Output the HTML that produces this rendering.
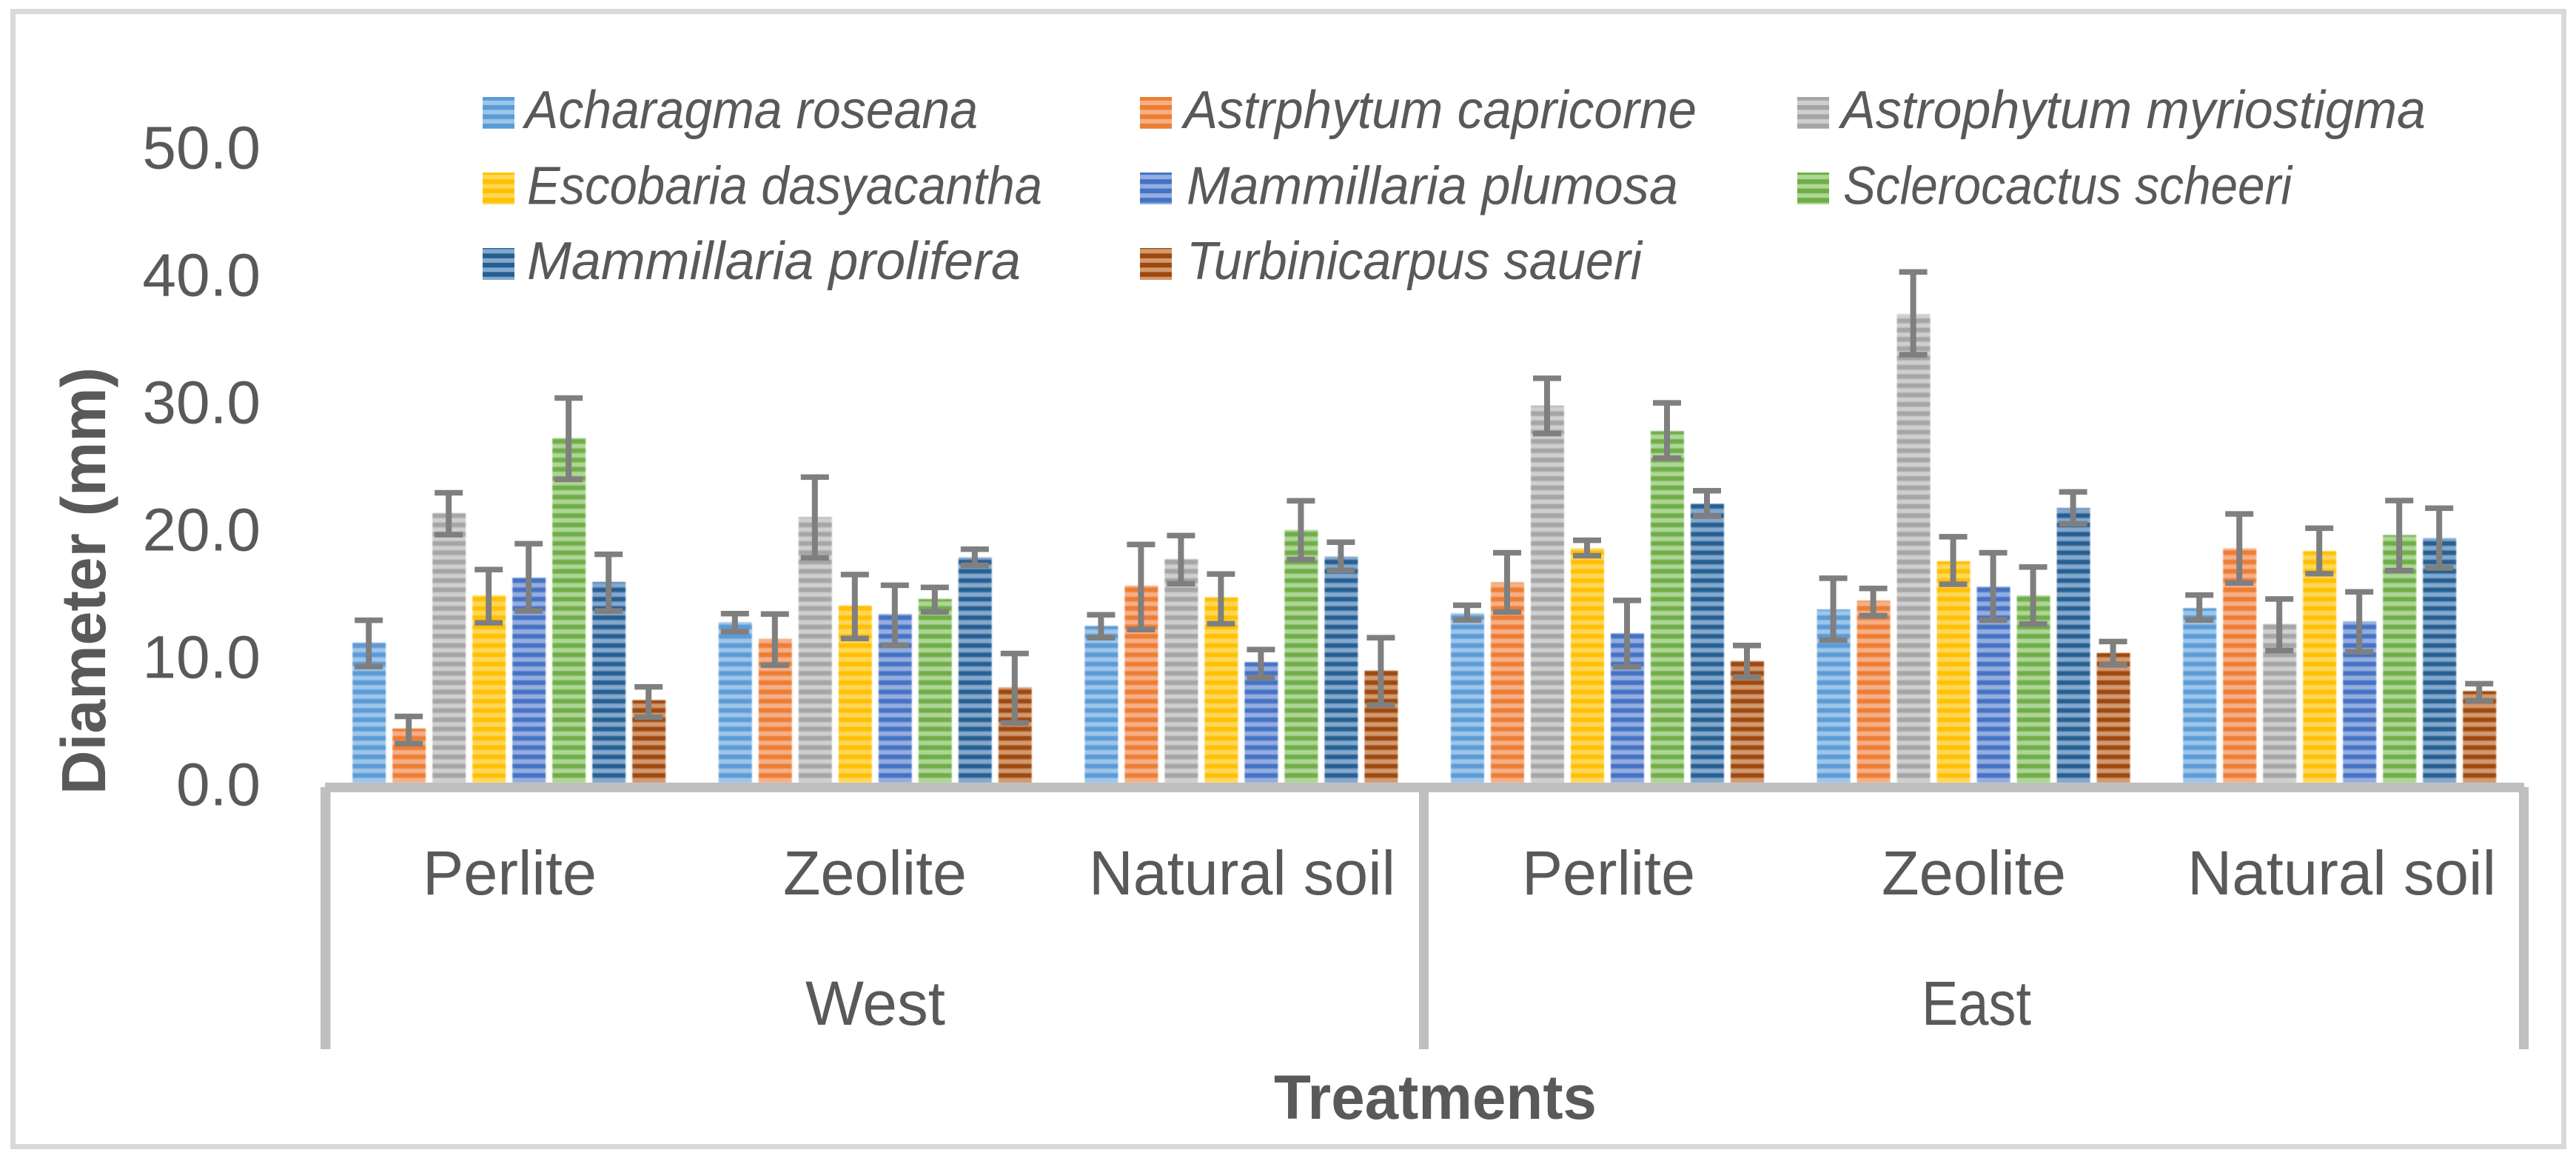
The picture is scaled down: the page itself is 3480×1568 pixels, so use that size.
<!DOCTYPE html>
<html lang="en">
<head>
<meta charset="utf-8">
<title>Diameter by treatment</title>
<style>
html,body{margin:0;padding:0;background:#fff;}
svg{display:block;}
text{font-family:"Liberation Sans",sans-serif;fill:#595959;}
</style>
</head>
<body>
<svg id="chart" xmlns="http://www.w3.org/2000/svg" width="3480" height="1568" viewBox="0 0 3480 1568">
  <defs>
    <pattern id="stripe-0" patternUnits="userSpaceOnUse" x="0" y="1044" width="20" height="12.53"><rect width="20" height="12.53" fill="#9dc6ea"/><rect width="20" height="6.5" fill="#5b9bd5"/></pattern>
    <pattern id="stripe-1" patternUnits="userSpaceOnUse" x="0" y="1044" width="20" height="12.53"><rect width="20" height="12.53" fill="#f6b088"/><rect width="20" height="6.5" fill="#ed7d31"/></pattern>
    <pattern id="stripe-2" patternUnits="userSpaceOnUse" x="0" y="1044" width="20" height="12.53"><rect width="20" height="12.53" fill="#cfcfcf"/><rect width="20" height="6.5" fill="#a5a5a5"/></pattern>
    <pattern id="stripe-3" patternUnits="userSpaceOnUse" x="0" y="1044" width="20" height="12.53"><rect width="20" height="12.53" fill="#ffd859"/><rect width="20" height="6.5" fill="#ffc000"/></pattern>
    <pattern id="stripe-4" patternUnits="userSpaceOnUse" x="0" y="1044" width="20" height="12.53"><rect width="20" height="12.53" fill="#94aee0"/><rect width="20" height="6.5" fill="#4472c4"/></pattern>
    <pattern id="stripe-5" patternUnits="userSpaceOnUse" x="0" y="1044" width="20" height="12.53"><rect width="20" height="12.53" fill="#aed696"/><rect width="20" height="6.5" fill="#70ad47"/></pattern>
    <pattern id="stripe-6" patternUnits="userSpaceOnUse" x="0" y="1044" width="20" height="12.53"><rect width="20" height="12.53" fill="#83a9cf"/><rect width="20" height="6.5" fill="#255e91"/></pattern>
    <pattern id="stripe-7" patternUnits="userSpaceOnUse" x="0" y="1044" width="20" height="12.53"><rect width="20" height="12.53" fill="#d39a6e"/><rect width="20" height="6.5" fill="#9e480e"/></pattern>
    <filter id="soft" x="-5%" y="-5%" width="110%" height="110%"><feGaussianBlur stdDeviation="0.9"/></filter>
  </defs>

  <rect x="0" y="0" width="3480" height="1568" fill="#ffffff"/>
  <rect x="17.5" y="15.5" width="3446" height="1533" fill="#ffffff" stroke="#d9d9d9" stroke-width="7"/>

  <g id="y-ticks" font-size="82" text-anchor="end"></g>
  <text transform="translate(142,1073) rotate(-90)" font-size="84" font-weight="700" textLength="577" lengthAdjust="spacingAndGlyphs">Diameter (mm)</text>

  <g font-size="72" font-style="italic">
    <g><rect x="652" y="131" width="43" height="43" fill="url(#stripe-0)"/><text x="709" y="173" textLength="612" lengthAdjust="spacingAndGlyphs">Acharagma roseana</text></g>
    <g><rect x="1540" y="131" width="43" height="43" fill="url(#stripe-1)"/><text x="1599" y="173" textLength="693" lengthAdjust="spacingAndGlyphs">Astrphytum capricorne</text></g>
    <g><rect x="2428" y="131" width="43" height="43" fill="url(#stripe-2)"/><text x="2487" y="173" textLength="790" lengthAdjust="spacingAndGlyphs">Astrophytum myriostigma</text></g>
    <g><rect x="652" y="233" width="43" height="43" fill="url(#stripe-3)"/><text x="712" y="275.500" textLength="696" lengthAdjust="spacingAndGlyphs">Escobaria dasyacantha</text></g>
    <g><rect x="1540" y="233" width="43" height="43" fill="url(#stripe-4)"/><text x="1603" y="275.500" textLength="664" lengthAdjust="spacingAndGlyphs">Mammillaria plumosa</text></g>
    <g><rect x="2428" y="233" width="43" height="43" fill="url(#stripe-5)"/><text x="2490" y="275.500" textLength="606" lengthAdjust="spacingAndGlyphs">Sclerocactus scheeri</text></g>
    <g><rect x="652" y="335" width="43" height="43" fill="url(#stripe-6)"/><text x="712" y="377" textLength="667" lengthAdjust="spacingAndGlyphs">Mammillaria prolifera</text></g>
    <g><rect x="1540" y="335" width="43" height="43" fill="url(#stripe-7)"/><text x="1603" y="377" textLength="615" lengthAdjust="spacingAndGlyphs">Turbinicarpus saueri</text></g>
  </g>

  <g id="bars" filter="url(#soft)"></g>
  <g id="errors"></g>

  <g fill="#bfbfbf">
    <rect x="439" y="1057" width="2971" height="13"/>
    <rect x="433" y="1063" width="13.500" height="354"/>
    <rect x="1917" y="1063" width="13" height="354"/>
    <rect x="3403" y="1063" width="13" height="354"/>
  </g>

  <g font-size="84">
    <text x="571" y="1208" textLength="235" lengthAdjust="spacingAndGlyphs">Perlite</text>
    <text x="1058" y="1208" textLength="248" lengthAdjust="spacingAndGlyphs">Zeolite</text>
    <text x="1471" y="1208" textLength="414" lengthAdjust="spacingAndGlyphs">Natural soil</text>
    <text x="2056" y="1208" textLength="234" lengthAdjust="spacingAndGlyphs">Perlite</text>
    <text x="2542" y="1208" textLength="249" lengthAdjust="spacingAndGlyphs">Zeolite</text>
    <text x="2955" y="1208" textLength="417" lengthAdjust="spacingAndGlyphs">Natural soil</text>
    <text x="1088" y="1384" textLength="189" lengthAdjust="spacingAndGlyphs">West</text>
    <text x="2596" y="1384" textLength="148" lengthAdjust="spacingAndGlyphs">East</text>
  </g>
  <text x="1721" y="1511" font-size="84" font-weight="700" textLength="436" lengthAdjust="spacingAndGlyphs">Treatments</text>
</svg>

<script>
const tickValues = [0, 10, 20, 30, 40, 50];
const tickLabels = ["0.0", "10.0", "20.0", "30.0", "40.0", "50.0"];
const categories = ["Perlite West", "Zeolite West", "Natural soil West", "Perlite East", "Zeolite East", "Natural soil East"];
const seriesNames = ["acharagma-roseana", "astrphytum-capricorne", "astrophytum-myriostigma", "escobaria-dasyacantha", "mammillaria-plumosa", "sclerocactus-scheeri", "mammillaria-prolifera", "turbinicarpus-saueri"];

const acharagmaMean = [11.0, 12.6, 12.3, 13.3, 13.6, 13.7];
const acharagmaUpper = [12.75, 13.27, 13.18, 13.93, 16.05, 14.73];
const acharagmaLower = [9.12, 11.86, 11.38, 12.77, 11.19, 12.77];
const capricorneMean = [4.25, 11.3, 15.47, 15.73, 14.29, 18.39];
const capricorneUpper = [5.2, 13.24, 18.7, 18.05, 15.25, 21.1];
const capricorneLower = [3.07, 9.22, 12.02, 13.4, 13.11, 15.68];
const myriostigmaMean = [21.16, 20.85, 17.56, 29.6, 36.79, 12.46];
const myriostigmaUpper = [22.76, 23.99, 19.4, 31.75, 40.1, 14.42];
const myriostigmaLower = [19.47, 17.65, 15.62, 27.41, 33.6, 10.37];
const escobariaMean = [14.7, 13.91, 14.55, 18.4, 17.39, 18.18];
const escobariaUpper = [16.73, 16.34, 16.38, 19.03, 19.31, 19.98];
const escobariaLower = [12.55, 11.32, 12.48, 17.82, 15.58, 16.41];
const plumosaMean = [16.1, 13.24, 9.46, 11.73, 15.39, 12.67];
const plumosaUpper = [18.76, 15.5, 10.45, 14.31, 18.05, 14.98];
const plumosaLower = [13.48, 10.79, 8.24, 9.1, 12.76, 10.27];
const sclerocactusMean = [27.06, 14.42, 19.84, 27.6, 14.7, 19.44];
const sclerocactusUpper = [30.2, 15.33, 22.13, 29.82, 16.93, 22.15];
const sclerocactusLower = [23.81, 13.41, 17.52, 25.48, 12.46, 16.65];
const proliferaMean = [15.75, 17.69, 17.75, 21.9, 21.56, 19.2];
const proliferaUpper = [17.93, 18.33, 18.88, 22.92, 22.83, 21.55];
const proliferaLower = [13.48, 17.07, 16.67, 20.92, 20.33, 16.86];
const turbinicarpusMean = [6.48, 7.48, 8.8, 9.55, 10.18, 7.19];
const turbinicarpusUpper = [7.52, 10.14, 11.38, 10.77, 11.08, 7.77];
const turbinicarpusLower = [5.14, 4.69, 6.09, 8.3, 9.25, 6.43];

const meanSeries = [acharagmaMean, capricorneMean, myriostigmaMean, escobariaMean, plumosaMean, sclerocactusMean, proliferaMean, turbinicarpusMean];
const upperSeries = [acharagmaUpper, capricorneUpper, myriostigmaUpper, escobariaUpper, plumosaUpper, sclerocactusUpper, proliferaUpper, turbinicarpusUpper];
const lowerSeries = [acharagmaLower, capricorneLower, myriostigmaLower, escobariaLower, plumosaLower, sclerocactusLower, proliferaLower, turbinicarpusLower];

const NS = "http://www.w3.org/2000/svg";
const BASE_Y = 1057, PX_PER_UNIT = 17.2;
const FIRST_X = 476.2, GROUP_PITCH = 494.6, BAR_PITCH = 54, BAR_W = 45;
const CAP_W = 38, CAP_H = 7.5, STEM_W = 8;

function yScale(v) { return BASE_Y - v * PX_PER_UNIT; }
function xScale(groupIndex, seriesIndex) { return FIRST_X + groupIndex * GROUP_PITCH + seriesIndex * BAR_PITCH; }

function rect(parent, x, y, w, h, fill) {
  const r = document.createElementNS(NS, "rect");
  r.setAttribute("x", x);
  r.setAttribute("y", y);
  r.setAttribute("width", w);
  r.setAttribute("height", h);
  r.setAttribute("fill", fill);
  parent.appendChild(r);
  return r;
}

const tickGroup = document.getElementById("y-ticks");
tickValues.forEach(function (v, i) {
  const t = document.createElementNS(NS, "text");
  t.setAttribute("x", 352);
  t.setAttribute("y", yScale(v) + 30.5);
  t.textContent = tickLabels[i];
  
  
  tickGroup.appendChild(t);
});

const barGroup = document.getElementById("bars");
const errorGroup = document.getElementById("errors");
meanSeries.forEach(function (values, s) {
  values.forEach(function (v, g) {
    const x = xScale(g, s);
    const top = yScale(v);
    const bar = rect(barGroup, x, top, BAR_W, BASE_Y - top, "url(#stripe-" + s + ")");
    
    
    bar.setAttribute("data-series", seriesNames[s]);
    bar.setAttribute("data-category", categories[g]);

    const cx = x + BAR_W / 2 - 0.5;
    const hi = yScale(upperSeries[s][g]);
    const lo = yScale(lowerSeries[s][g]);
    const eb = document.createElementNS(NS, "g");
    
    
    rect(eb, cx - STEM_W / 2, hi, STEM_W, lo - hi, "#7f7f7f");
    rect(eb, cx - CAP_W / 2, hi - CAP_H / 2, CAP_W, CAP_H, "#7f7f7f");
    rect(eb, cx - CAP_W / 2, lo - CAP_H / 2, CAP_W, CAP_H, "#7f7f7f");
    errorGroup.appendChild(eb);
  });
});
</script>
</body>
</html>
